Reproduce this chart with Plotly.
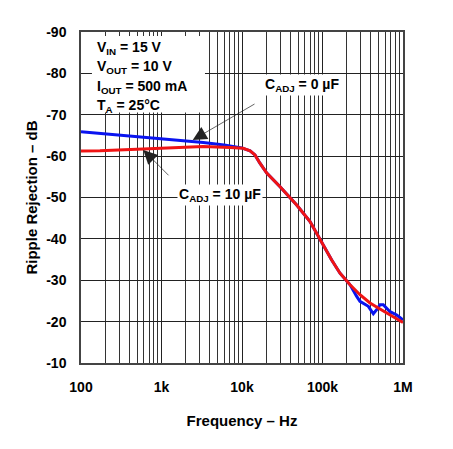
import plotly.graph_objects as go

# Ripple rejection vs frequency, two C_ADJ values
freq_0uf = [100, 300, 783, 1500, 3300, 6000, 9900, 12600, 14500, 16700, 20300,
            29700, 47800, 70000, 93100, 130000, 165000, 220000, 266000, 292000,
            371000, 428000, 471000, 518000, 569000, 690000, 836000, 1000000]
rr_0uf = [-65.9, -65.1, -64.3, -63.9, -63.3, -62.7, -62.0, -61.3, -60.3, -58.3, -55.9,
          -52.6, -48.2, -44.2, -39.8, -34.9, -31.7, -28.9, -26.1, -24.9,
          -23.7, -21.9, -22.9, -24.1, -24.1, -22.4, -21.6, -20.4]

freq_10uf = [100, 172, 589, 3280, 7100, 10300, 12600, 14500, 16700, 20300, 29700,
             47800, 70000, 93100, 130000, 165000, 220000, 292000, 389000, 493000,
             628000, 1000000]
rr_10uf = [-61.25, -61.3, -61.7, -62.3, -62.1, -61.9, -61.3, -60.3, -58.3, -55.9, -52.6,
           -48.2, -44.2, -39.8, -34.9, -31.7, -28.9, -26.5, -24.5, -23.3,
           -22.1, -19.8]

x_major = [100, 1000, 10000, 100000, 1000000]
x_labels = ["100", "1k", "10k", "100k", "1M"]
x_minor = [m * d for d in [100, 1000, 10000, 100000] for m in range(2, 10)]
y_ticks = [-90, -80, -70, -60, -50, -40, -30, -20, -10]

FONT = "Liberation Sans, Arial, sans-serif"

fig = go.Figure()
fig.add_trace(go.Scatter(x=freq_0uf, y=rr_0uf, mode="lines",
                         line=dict(color="#0a14f0", width=3)))
fig.add_trace(go.Scatter(x=freq_10uf, y=rr_10uf, mode="lines",
                         line=dict(color="#f01414", width=3)))

fig.update_xaxes(
    type="log", range=[2, 6],
    tickvals=x_major, ticktext=x_labels,
    showgrid=True, gridcolor="#222", gridwidth=1,
    minor=dict(tickvals=x_minor, showgrid=True, gridcolor="#333", gridwidth=1),
    showline=True, linecolor="#444", linewidth=1.5, mirror=True,
    ticks="", ticklabelstandoff=10,
    tickfont=dict(family=FONT, size=14, color="black", weight="bold"),
    title=dict(text="Frequency – Hz", standoff=22,
               font=dict(family=FONT, size=15, color="black", weight="bold")),
    zeroline=False,
)
fig.update_yaxes(
    range=[-10, -90], autorange=False,
    tickvals=y_ticks, ticktext=[str(v) for v in y_ticks],
    showgrid=True, gridcolor="#222", gridwidth=1,
    showline=True, linecolor="#444", linewidth=1.5, mirror=True,
    ticks="", ticklabelstandoff=10,
    tickfont=dict(family=FONT, size=14, color="black", weight="bold"),
    title=dict(text="Ripple Rejection – dB", standoff=5,
               font=dict(family=FONT, size=15, color="black", weight="bold")),
    zeroline=False,
)

# condition box
fig.add_shape(type="rect", xref="paper", yref="paper",
              x0=0.034, x1=0.385, y0=0.757, y1=0.988,
              fillcolor="white", line=dict(width=0), layer="above")
conds = ["V<sub>IN</sub> = 15 V", "V<sub>OUT</sub> = 10 V",
         "I<sub>OUT</sub> = 500 mA", "T<sub>A</sub> = 25°C"]
for i, t in enumerate(conds):
    fig.add_annotation(xref="paper", yref="paper", x=0.045, y=0.953 - i * 0.059,
                       text=t, showarrow=False, xanchor="left", yanchor="middle",
                       font=dict(family=FONT, size=14, color="black", weight="bold"))

# curve labels with arrows
fig.add_annotation(x=3.388, y=-63.9, ax=4.174, ay=-72.8, axref="x", ayref="y",
                   text="", showarrow=True, arrowhead=2, arrowsize=4,
                   arrowwidth=0.7, arrowcolor="#222")
fig.add_annotation(x=2.774, y=-61.5, ax=3.106, ay=-55.0, axref="x", ayref="y",
                   text="", showarrow=True, arrowhead=2, arrowsize=4,
                   arrowwidth=0.7, arrowcolor="#222")
fig.add_annotation(x=4.745, y=-77.3, text="C<sub>ADJ</sub> = 0 µF",
                   showarrow=False, bgcolor="white",
                   font=dict(family=FONT, size=14, color="black", weight="bold"))
fig.add_annotation(x=3.727, y=-50.6, text="C<sub>ADJ</sub> = 10 µF",
                   showarrow=False, bgcolor="white",
                   font=dict(family=FONT, size=14, color="black", weight="bold"))

# page body has an 8px margin, so the figure is 8px smaller
fig.update_layout(
    width=445, height=441,
    margin=dict(l=73, r=50, t=24, b=86),
    paper_bgcolor="white", plot_bgcolor="white",
    showlegend=False,
)

fig.write_html("out.html")
